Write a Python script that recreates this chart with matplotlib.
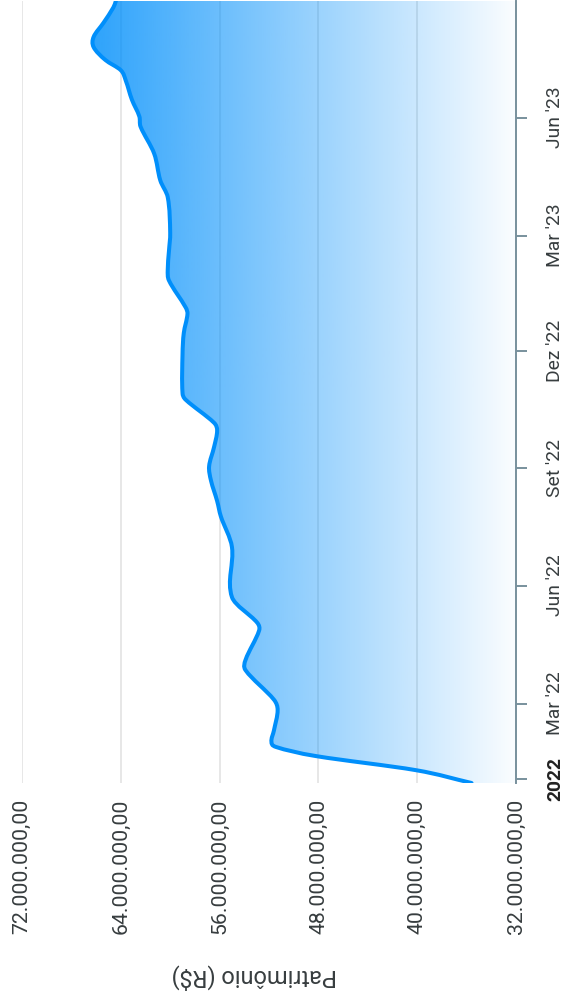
import matplotlib
matplotlib.use('Agg')
import matplotlib.pyplot as plt
import matplotlib.dates as mdates
import numpy as np
import pandas as pd
from matplotlib.colors import to_rgb
from matplotlib.path import Path
from matplotlib.patches import PathPatch

plt.rcParams['font.family'] = ['Roboto', 'DejaVu Sans']

# patrimônio ao longo do tempo (valores em milhões de R$)
datas = ['2021-12-29', '2022-01-08', '2022-01-19', '2022-01-26',
         '2022-01-30', '2022-02-08', '2022-02-24', '2022-03-04', '2022-03-27',
         '2022-04-04', '2022-04-27', '2022-05-03', '2022-05-23', '2022-07-01',
         '2022-07-25', '2022-08-06', '2022-08-22', '2022-09-02', '2022-09-17',
         '2022-09-30', '2022-10-06', '2022-10-24', '2022-10-29', '2022-11-29',
         '2022-12-15', '2022-12-30', '2023-01-04', '2023-01-25', '2023-02-02',
         '2023-02-17', '2023-03-03', '2023-03-31', '2023-04-13', '2023-05-04',
         '2023-05-25', '2023-06-02', '2023-06-15', '2023-06-30', '2023-07-08',
         '2023-07-16', '2023-07-26', '2023-08-03', '2023-08-14', '2023-08-26',
         '2023-08-31']
patrimonio = [35.6, 40.1, 48.2, 51.4,
              51.8, 51.6, 51.3, 51.6, 53.9,
              53.9, 52.8, 52.95, 55.0, 55.0,
              55.9, 56.2, 56.7, 56.85, 56.45,
              56.2, 56.45, 58.75, 59.0, 59.0,
              58.9, 58.6, 58.75, 60.1, 60.2,
              60.1, 60.0, 60.2, 60.8, 61.3,
              62.4, 62.5, 63.1, 63.6, 64.0,
              65.25, 66.2, 66.2, 65.4, 64.6,
              64.4]

ticks_datas = ['2022-01-01', '2022-03-01', '2022-06-01', '2022-09-01',
               '2022-12-01', '2023-03-01', '2023-06-01']
ticks_rotulos = ['2022', "Mar '22", "Jun '22", "Set '22", "Dez '22", "Mar '23", "Jun '23"]
ticks_valores = [32e6, 40e6, 48e6, 56e6, 64e6, 72e6]


def fmt_brl(v):
    return f'{v:,.2f}'.replace(',', 'X').replace('.', ',').replace('X', '.')


def curva_suave(t, y):
    # spline cubica (hermite com diferencas centrais) como curvas bezier do Path
    h = np.diff(t)
    m = np.zeros_like(y)
    m[1:-1] = (y[2:] - y[:-2]) / (t[2:] - t[:-2])
    m[0] = (y[1] - y[0]) / h[0]
    m[-1] = (y[-1] - y[-2]) / h[-1]
    verts = [(y[0], t[0])]
    codes = [Path.MOVETO]
    for i in range(len(y) - 1):
        verts += [(y[i] + m[i] * h[i] / 3, t[i] + h[i] / 3),
                  (y[i + 1] - m[i + 1] * h[i] / 3, t[i + 1] - h[i] / 3),
                  (y[i + 1], t[i + 1])]
        codes += [Path.CURVE4] * 3
    return verts, codes


cor = '#008FFB'
texto = '#373d3f'

t = mdates.date2num(pd.to_datetime(datas))
v = np.array(patrimonio) * 1e6
base = 32e6

fig = plt.figure(figsize=(5.69, 10), dpi=100)
ax = fig.add_axes([22 / 569, 1 - 783 / 1000, (516 - 22) / 569, 782 / 1000])

verts, codes = curva_suave(t, v)
linha = Path(verts, codes)
area = Path(verts + [(base, t[-1]), (base, t[0]), (base, t[0])],
            codes + [Path.LINETO, Path.LINETO, Path.CLOSEPOLY])

# preenchimento em gradiente
xs = np.linspace(base, 72e6, 400)
alpha = np.clip(0.02 + 0.8 * (xs - base) / (v.max() - base), 0, 0.82)
rgba = np.zeros((1, len(xs), 4))
rgba[..., :3] = to_rgb(cor)
rgba[..., 3] = alpha
im = ax.imshow(rgba, extent=[base, 72e6, t[0], t[-1]], origin='lower',
               aspect='auto', interpolation='bilinear', zorder=1)
im.set_clip_path(area, transform=ax.transData)

ax.add_patch(PathPatch(linha, facecolor='none', edgecolor=cor, lw=2.9,
                       zorder=3, capstyle='round', joinstyle='round'))

ax.set_xlim(72e6, base)
ax.set_ylim(t[0], t[-1])

ax.set_xticks(ticks_valores)
ax.set_xticklabels([fmt_brl(x) for x in ticks_valores])
ax.tick_params(axis='x', length=0, pad=11, labelsize=15.3, labelcolor=texto,
               labelrotation=90)
ax.grid(axis='x', color='#e3e3e3', lw=1.2, zorder=0)
ax.set_axisbelow(True)

ax.yaxis.tick_right()
ax.set_yticks(mdates.date2num(pd.to_datetime(ticks_datas)))
ax.set_yticklabels(ticks_rotulos)
ax.tick_params(axis='y', length=7.9, width=1.4, color='#78909c', pad=14,
               labelsize=13.9, labelcolor=texto, labelrotation=90)
for i, lab in enumerate(ax.get_yticklabels()):
    lab.set_ha('left')
    lab.set_va('center')
    if i == 0:
        lab.set_fontweight('bold')
        lab.set_color('#222222')

for s in ['top', 'left', 'bottom']:
    ax.spines[s].set_visible(False)
ax.spines['right'].set_color('#78909c')
ax.spines['right'].set_linewidth(1.4)

fig.text(254 / 569, 1 - 977 / 1000, 'Patrimônio (R$)', rotation=180,
         ha='center', va='center', fontsize=17, color=texto)

fig.savefig('out.png', dpi=100)
